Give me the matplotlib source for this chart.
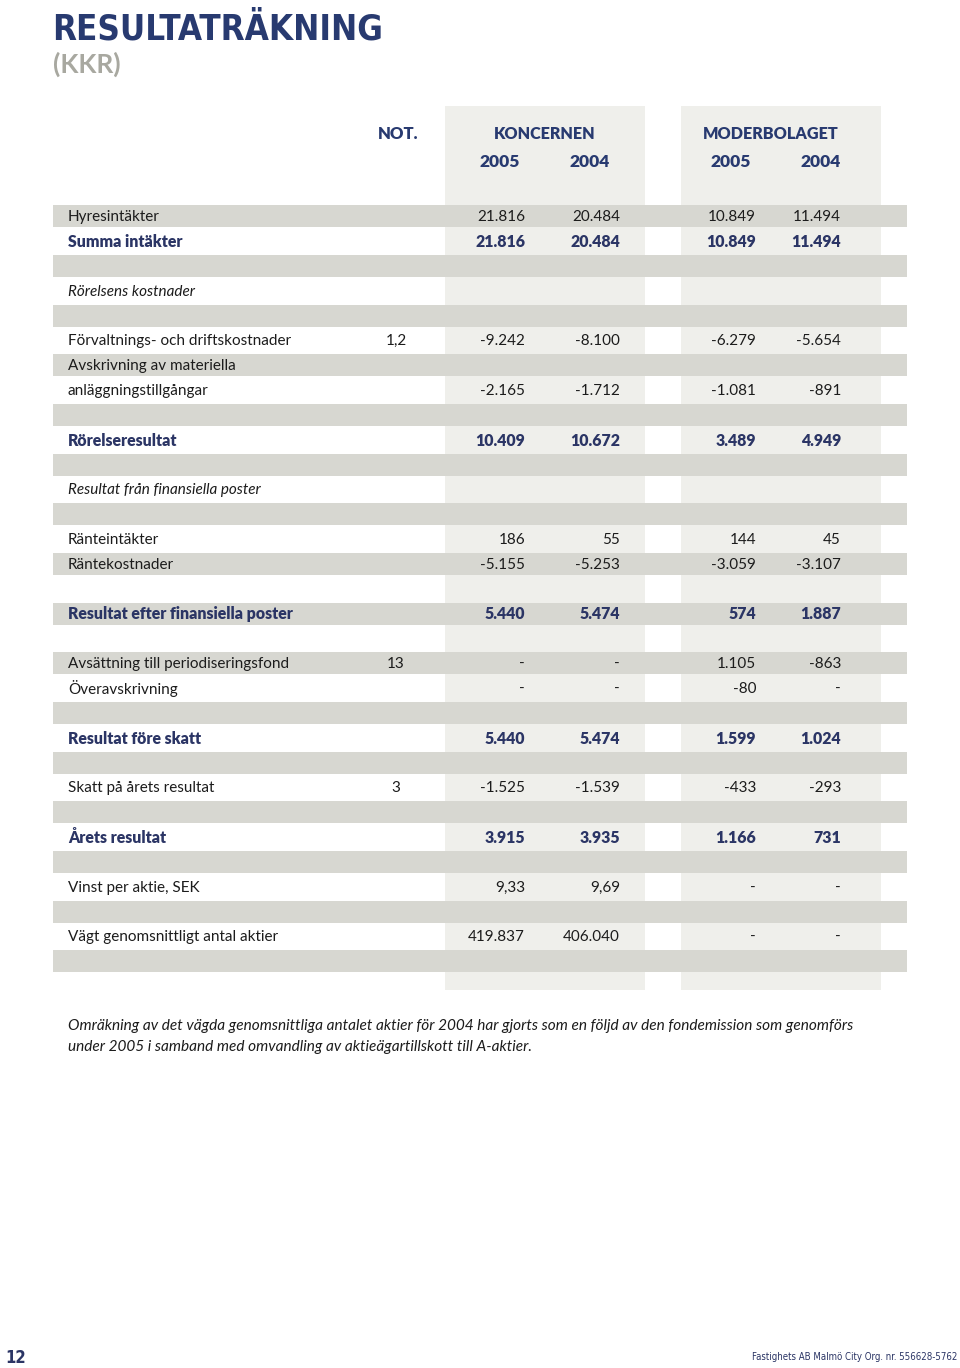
import matplotlib
matplotlib.use("Agg")
import matplotlib.pyplot as plt
from matplotlib.patches import Rectangle

# ---------------- data ----------------
labels = ["Hyresintäkter", "Summa intäkter", "", "Rörelsens kostnader", "",
          "Förvaltnings- och driftskostnader", "Avskrivning av materiella",
          "anläggningstillgångar", "", "Rörelseresultat", "",
          "Resultat från finansiella poster", "", "Ränteintäkter", "Räntekostnader", "",
          "Resultat efter finansiella poster", "", "Avsättning till periodiseringsfond",
          "Överavskrivning", "", "Resultat före skatt", "", "Skatt på årets resultat", "",
          "Årets resultat", "", "Vinst per aktie, SEK", "", "Vägt genomsnittligt antal aktier", ""]
notes = ["", "", "", "", "", "1,2", "", "", "", "", "", "", "", "", "", "", "", "",
         "13", "", "", "", "", "3", "", "", "", "", "", "", ""]
koncern_2005 = ["21.816", "21.816", "", "", "", "-9.242", "", "-2.165", "", "10.409", "",
                "", "", "186", "-5.155", "", "5.440", "", "-", "-", "", "5.440", "",
                "-1.525", "", "3.915", "", "9,33", "", "419.837", ""]
koncern_2004 = ["20.484", "20.484", "", "", "", "-8.100", "", "-1.712", "", "10.672", "",
                "", "", "55", "-5.253", "", "5.474", "", "-", "-", "", "5.474", "",
                "-1.539", "", "3.935", "", "9,69", "", "406.040", ""]
moder_2005 = ["10.849", "10.849", "", "", "", "-6.279", "", "-1.081", "", "3.489", "",
              "", "", "144", "-3.059", "", "574", "", "1.105", "-80", "", "1.599", "",
              "-433", "", "1.166", "", "-", "", "-", ""]
moder_2004 = ["11.494", "11.494", "", "", "", "-5.654", "", "-891", "", "4.949", "",
              "", "", "45", "-3.107", "", "1.887", "", "-863", "-", "", "1.024", "",
              "-293", "", "731", "", "-", "", "-", ""]
row_kind = ["n", "b", "", "i", "", "n", "n", "n", "", "b", "", "i", "", "n", "n", "",
            "b", "", "n", "n", "", "b", "", "n", "", "b", "", "n", "", "n", ""]
group_headers = ["KONCERNEN", "MODERBOLAGET"]
year_headers = ["2005", "2004", "2005", "2004"]
title = "RESULTATRÄKNING"
subtitle = "(KKR)"
footnote = ["Omräkning av det vägda genomsnittliga antalet aktier för 2004 har gjorts som en följd av den fondemission som genomförs",
            "under 2005 i samband med omvandling av aktieägartillskott till A-aktier."]
page_no = "12"
footer = "Fastighets AB Malmö City Org. nr. 556628-5762"

# ---------------- style ----------------
NAVY = "#283a70"
BLUE_TXT = "#2b3565"
GREY_TXT = "#a8a8a0"
BAND = "#d7d7d1"
COLBG = "#efefeb"
BLACK = "#1c1c1c"
FONT = ["Lato", "DejaVu Sans"]
COND = ["DejaVu Sans"]

fig = plt.figure(figsize=(9.6, 13.68), dpi=100)
ax = fig.add_axes([0, 0, 1, 1])
ax.set_xlim(0, 960)
ax.set_ylim(1368, 0)
ax.axis("off")

# column backgrounds
for x0, x1 in [(445, 645), (681, 881)]:
    ax.add_patch(Rectangle((x0, 106), x1 - x0, 884, color=COLBG, lw=0, zorder=0))

y0, pitch = 216.3, 24.83
n = len(labels)
for i in range(n):
    y = y0 + i * pitch
    if i % 2 == 0:
        ax.add_patch(Rectangle((53, y - 11), 854, 22, color=BAND, lw=0, zorder=1))

# title
ax.text(52, 40, title, fontsize=25, fontweight="bold", color=NAVY,
        family=COND, fontstretch="condensed", va="baseline", ha="left")
ax.text(53, 73, subtitle, fontsize=19, fontweight="bold", color=GREY_TXT, family=FONT,
        va="baseline", ha="left")

# headers
ax.text(398, 134, "NOT.", fontsize=12, fontweight="heavy", color=NAVY, family=FONT, ha="center", va="center")
ax.text(545, 134, group_headers[0], fontsize=11.6, fontweight="heavy", color=NAVY, family=FONT, ha="center", va="center")
ax.text(771, 134, group_headers[1], fontsize=11.6, fontweight="heavy", color=NAVY, family=FONT, ha="center", va="center")
for xc, yr in zip([500, 590, 731, 821], year_headers):
    ax.text(xc, 162, yr, fontsize=12.5, fontweight="heavy", color=NAVY, family=FONT, ha="center", va="center")

# rows
val_cols = [(525, koncern_2005), (620, koncern_2004), (756, moder_2005), (841, moder_2004)]
for i in range(n):
    y = y0 + i * pitch + 0.8
    kind = row_kind[i]
    fs = 11
    if kind == "b":
        kw = dict(fontweight="heavy", color=BLUE_TXT, style="normal")
        fs = 11.4
    elif kind == "i":
        kw = dict(fontweight="normal", color=BLACK, style="italic")
    else:
        kw = dict(fontweight="normal", color=BLACK, style="normal")
    if labels[i]:
        ax.text(68, y, labels[i], fontsize=fs, family=FONT, ha="left", va="center", zorder=3, **kw)
    if notes[i]:
        ax.text(396, y, notes[i], fontsize=11, family=FONT, ha="center", va="center", color=BLACK, zorder=3)
    for xr, col in val_cols:
        if col[i]:
            ax.text(xr, y, col[i], fontsize=fs, family=FONT, ha="right", va="center", zorder=3,
                    fontweight=kw["fontweight"], color=kw["color"])

# footnote
for k, line in enumerate(footnote):
    ax.text(68, 1026 + k * 21, line, fontsize=11.1, style="italic", family=FONT,
            color=BLACK, ha="left", va="center")

# footer
ax.text(5, 1358, page_no, fontsize=12, fontweight="bold", color=BLUE_TXT, family=COND,
        fontstretch="condensed", ha="left", va="center")
ax.text(957, 1357, footer, fontsize=6.9, color=BLUE_TXT, family=COND,
        fontstretch="condensed", ha="right", va="center")

fig.savefig("out.png", dpi=100)
